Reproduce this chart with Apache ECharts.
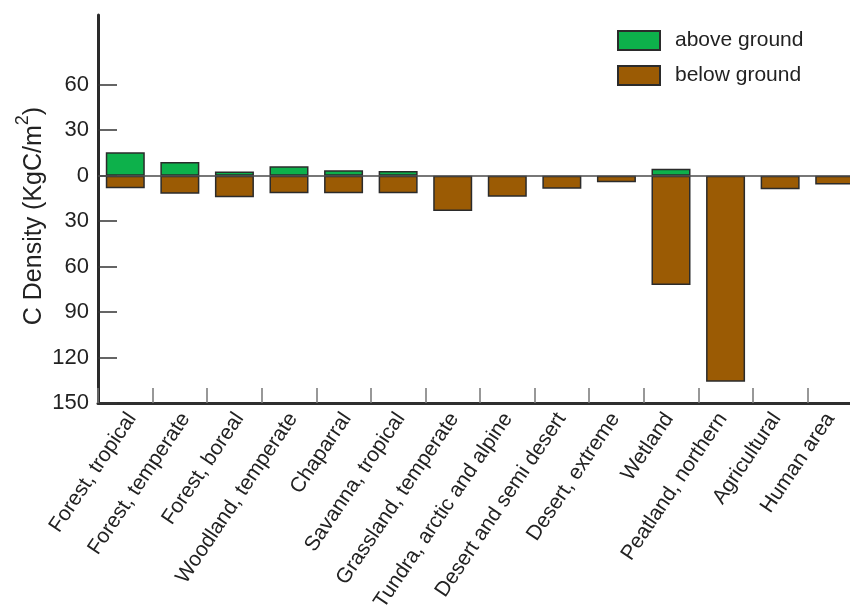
<!DOCTYPE html>
<html>
<head>
<meta charset="utf-8">
<script src="https://cdn.jsdelivr.net/npm/echarts@6/dist/echarts.min.js"></script>
<style>
html,body{margin:0;padding:0;background:#fff;}
#chart{width:850px;height:607px;}
</style>
</head>
<body>
<div id="chart"></div>
<script>
var categories = ['Forest, tropical','Forest, temperate','Forest, boreal','Woodland, temperate','Chaparral','Savanna, tropical','Grassland, temperate','Tundra, arctic and alpine','Desert and semi desert','Desert, extreme','Wetland','Peatland, northern','Agricultural','Human area'];
var aboveGround = [15.5, 9, 2.7, 6.2, 3.5, 3, null, null, null, null, 4.6, null, null, null];
var belowGround = [-8.3, -11.9, -14.3, -11.6, -11.6, -11.6, -23.3, -13.9, -8.6, -4.4, -72.1, -136, -9, -5.9];
var yTicks = [-150, -120, -90, -60, -30, 0, 30, 60];
var seriesNames = ['above ground', 'below ground'];

var FONT = '"Liberation Sans", Arial, Helvetica, sans-serif';
var chart = echarts.init(document.getElementById('chart'), null, {renderer: 'canvas'});
var border = {borderColor: '#2b2b2b', borderWidth: 1.5};
chart.setOption({
  animation: false,
  backgroundColor: '#ffffff',
  textStyle: {fontFamily: FONT},
  grid: [
    {left: 98, width: 764, top: 15, bottom: 204, containLabel: false, outerBoundsMode: 'none'},
    {left: 105, width: 752, top: 15, bottom: 204, containLabel: false, outerBoundsMode: 'none'}
  ],
  legend: {
    orient: 'vertical', left: 617, top: 30, padding: 0,
    itemWidth: 42, itemHeight: 19, itemGap: 14,
    icon: 'rect',
    data: seriesNames,
    textStyle: {fontSize: 21, color: '#222', fontFamily: FONT, padding: [0, 0, 0, 10]}
  },
  xAxis: [{
    type: 'category', data: categories, position: 'bottom', gridIndex: 0,
    axisLine: {onZero: false, lineStyle: {color: '#2e2e2e', width: 3}},
    axisTick: {show: true, inside: true, alignWithLabel: false, interval: 0, length: 15, lineStyle: {color: '#777', width: 1.5}},
    axisLabel: {show: false},
    splitLine: {show: false}
  }, {
    type: 'category', data: categories, position: 'bottom', gridIndex: 1,
    axisLine: {show: false, onZero: false},
    axisTick: {show: false},
    axisLabel: {interval: 0, rotate: 56, margin: 12, fontSize: 21, color: '#222', fontFamily: FONT},
    splitLine: {show: false}
  }],
  yAxis: [{
    type: 'value', min: -150, max: 106, gridIndex: 0,
    axisLine: {show: true, lineStyle: {color: '#2a2a2a', width: 3}},
    axisTick: {show: true, inside: true, length: 19, customValues: yTicks, lineStyle: {color: '#333', width: 1.5}},
    axisLabel: {customValues: yTicks, margin: 9, fontSize: 22, color: '#222', fontFamily: FONT,
      formatter: function (v) { return String(Math.abs(v)); }},
    splitLine: {show: false}
  }, {
    type: 'value', min: -150, max: 106, gridIndex: 1, show: false
  }],
  graphic: [{
    type: 'text', x: 34, y: 216, rotation: Math.PI / 2,
    style: {
      text: '{a|C Density (KgC/m}{s|2}{a|)}',
      align: 'center', verticalAlign: 'middle',
      rich: {
        a: {fontSize: 25, lineHeight: 40, fill: '#222', fontFamily: FONT},
        s: {fontSize: 18, lineHeight: 18, verticalAlign: 'top', fill: '#222', fontFamily: FONT}
      }
    }
  }],
  series: [
    {
      name: seriesNames[0], type: 'bar', stack: 'c', barWidth: 39,
      itemStyle: Object.assign({color: '#0db14b'}, border),
      data: aboveGround
    },
    {
      name: seriesNames[1], type: 'bar', stack: 'c', barWidth: 39,
      itemStyle: Object.assign({color: '#9b5b04'}, border),
      data: belowGround,
      markLine: {
        silent: true, symbol: 'none', label: {show: false},
        lineStyle: {color: '#4a4a4a', width: 1.5, type: 'solid'},
        data: [{yAxis: 0}]
      }
    }
  ]
});
</script>
</body>
</html>
